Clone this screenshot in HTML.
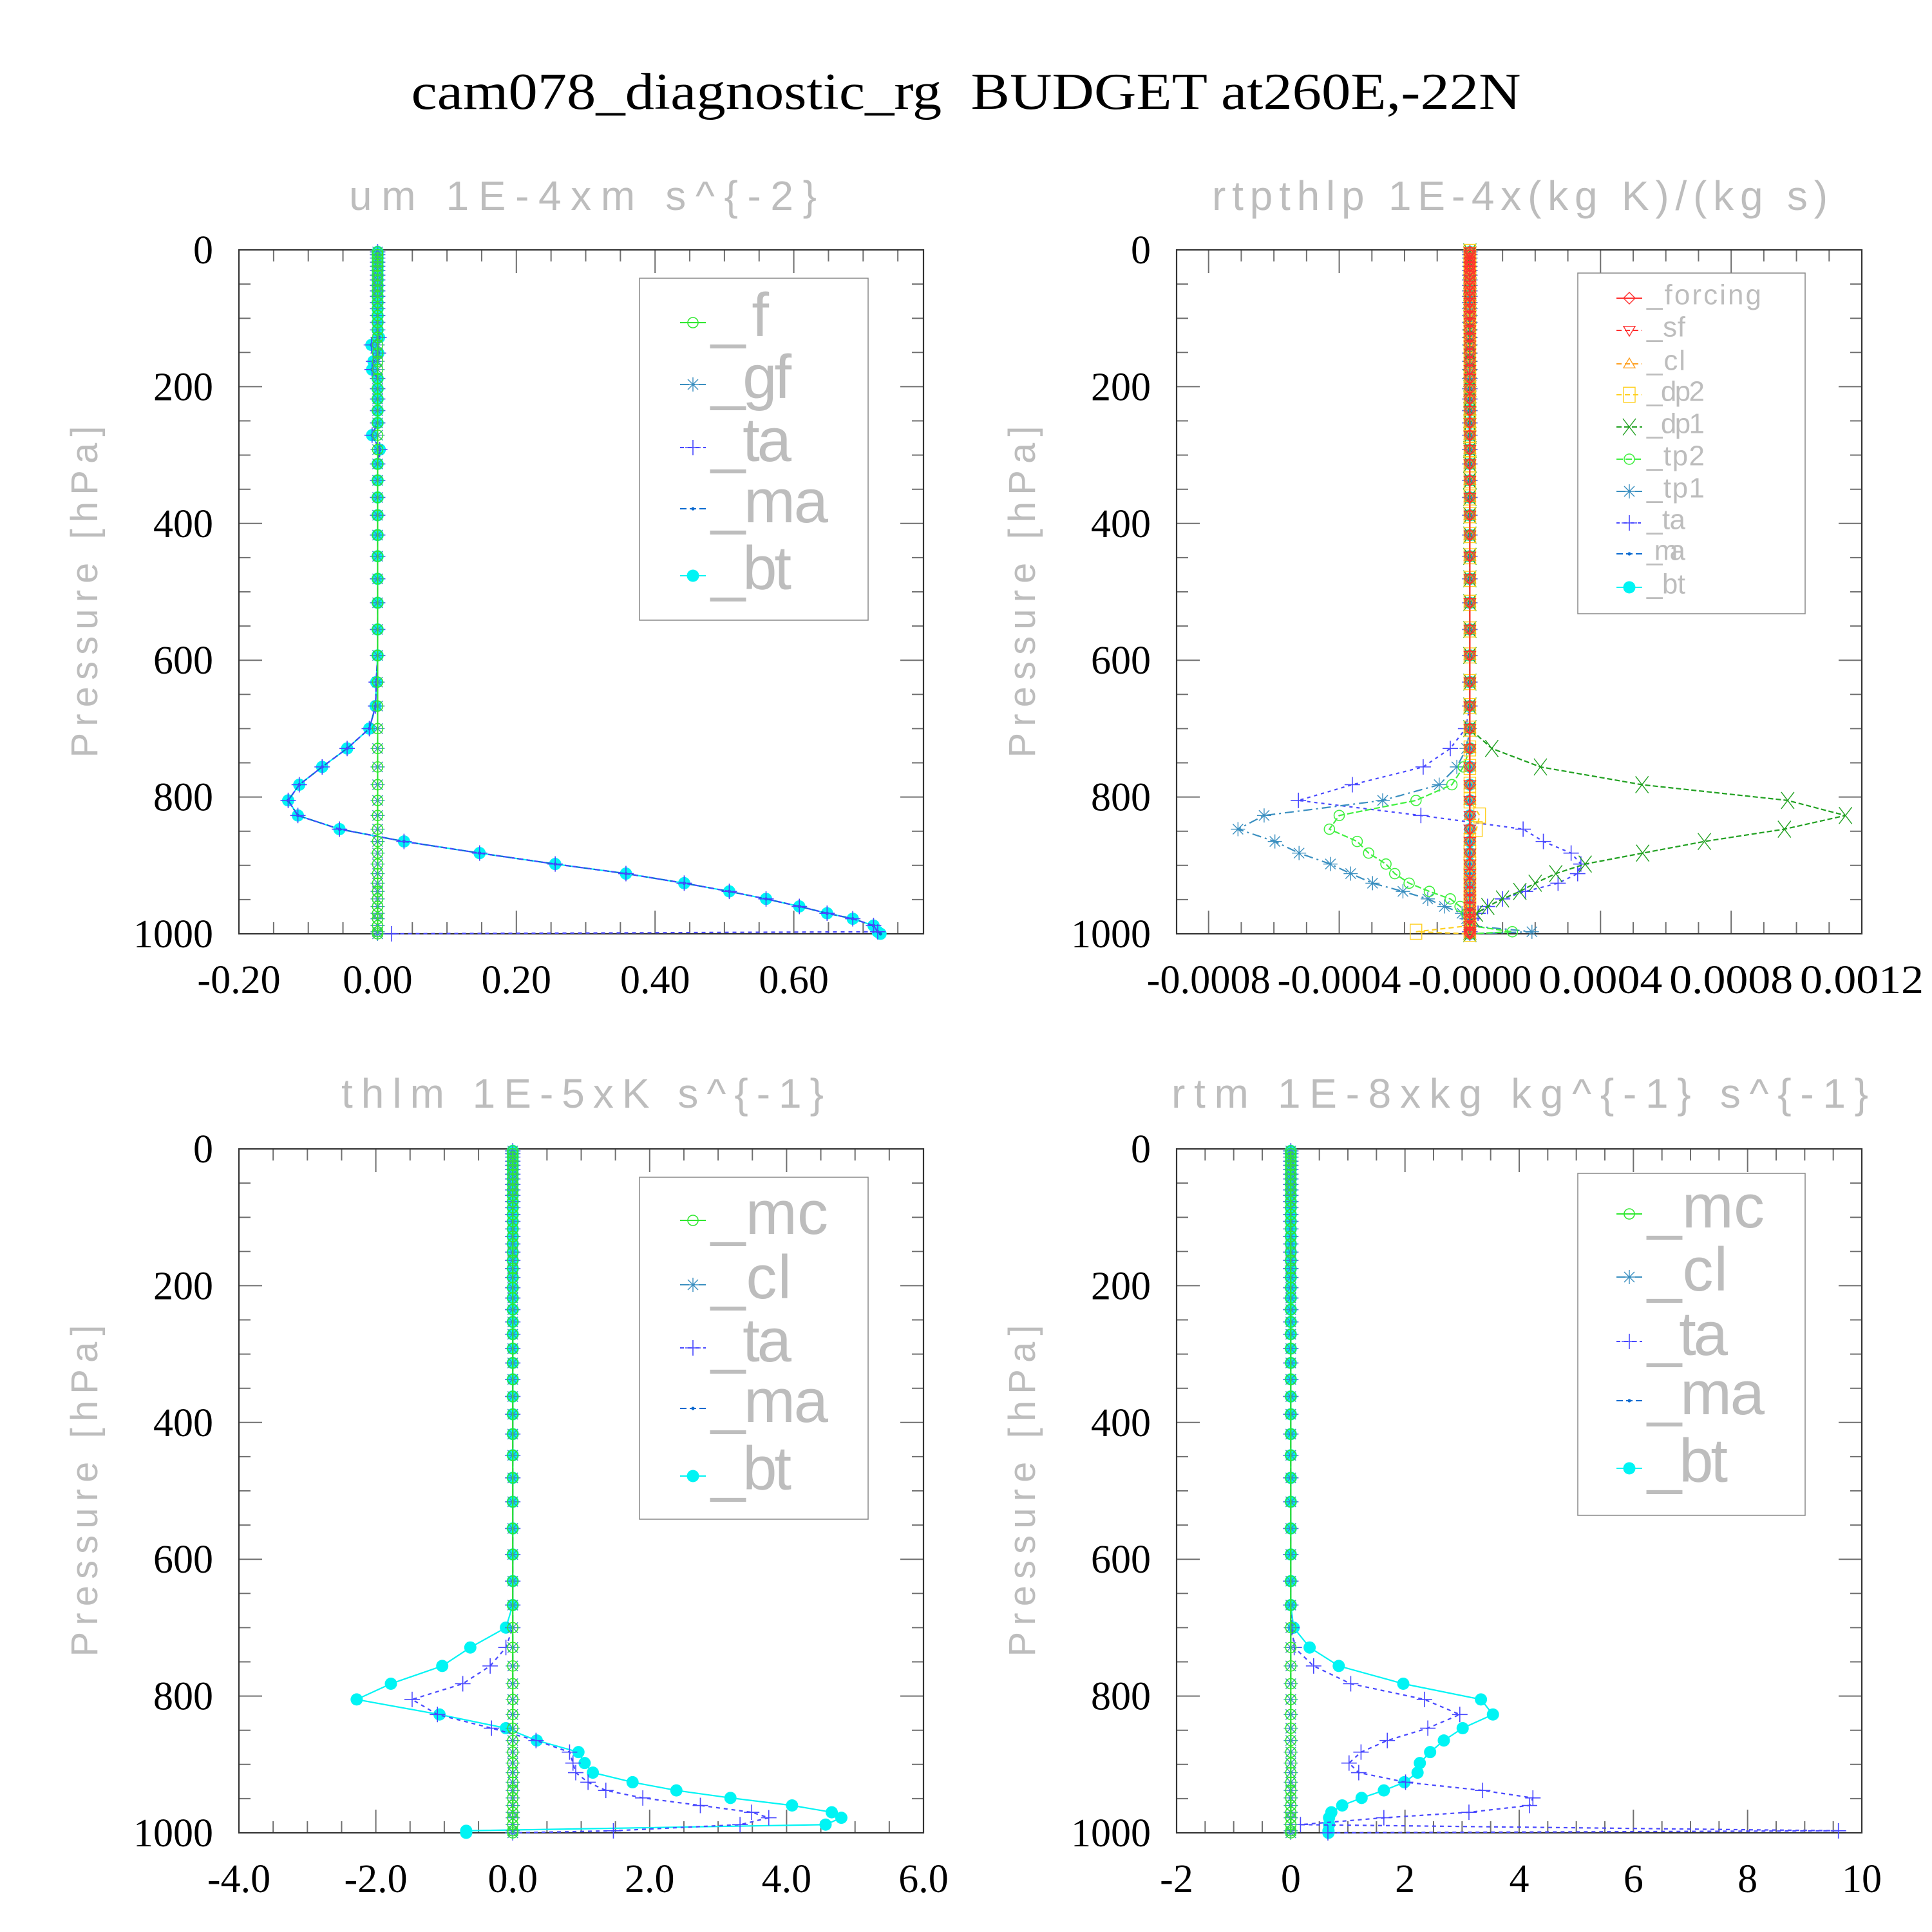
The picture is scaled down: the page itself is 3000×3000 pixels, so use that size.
<!DOCTYPE html>
<html><head><meta charset="utf-8"><style>
html,body{margin:0;padding:0;background:#fff;}
svg{display:block;}
</style></head><body>
<svg id="chart" xmlns="http://www.w3.org/2000/svg" width="3000" height="3000" viewBox="0 0 3000 3000">
<rect x="0" y="0" width="3000" height="3000" fill="#fff"/>
<text x="1500" y="169" text-anchor="middle" font-family="Liberation Serif, serif" font-size="80" textLength="1723" lengthAdjust="spacingAndGlyphs" fill="#000" xml:space="preserve">cam078_diagnostic_rg  BUDGET at260E,-22N</text>
</svg>
<script>
const levels = [3,7,12,18,24,30,37,44,52,60,68,77,86,96,106,117,128,139,151,163,175,188,203,218,235,253,271,292,313,337,362,388,417,448,481,516,555,593,632,667,700,729,756,782,805,827,847,865,882,898,912,926,938,949,960,970,978,988,997,1000];
const zeroProfile = [0,0,0,0,0,0,0,0,0,0, 0,0,0,0,0,0,0,0,0,0, 0,0,0,0,0,0,0,0,0,0, 0,0,0,0,0,0,0,0,0,0, 0,0,0,0,0,0,0,0,0,0, 0,0,0,0,0,0,0,0,0,0];

const p1_bt = [0,0,0,0,0,0,0,0,0,0, 0,0,0,0,0,0,0.002,-0.009,0.001,-0.006, -0.008,0,0,0,0,0,-0.008,0.003,0,0, 0,0,0,0,0,0,0,0,-0.002,-0.003, -0.012,-0.044,-0.080,-0.113,-0.129,-0.115,-0.055,0.038,0.147,0.256, 0.358,0.442,0.507,0.560,0.608,0.648,0.685,0.715,0.721,0.725];
const p1_ta = [0,0,0,0,0,0,0,0,0,0, 0,0,0,0,0,0,0.002,-0.009,0.001,-0.006, -0.008,0,0,0,0,0,-0.008,0.003,0,0, 0,0,0,0,0,0,0,0,-0.002,-0.003, -0.012,-0.044,-0.080,-0.113,-0.129,-0.115,-0.055,0.038,0.147,0.256, 0.358,0.442,0.507,0.560,0.608,0.648,0.685,0.715,0.721,0.02];
const p1_ma = [0,0,0,0,0,0,0,0,0,0, 0,0,0,0,0,0,0.002,-0.009,0.001,-0.006, -0.008,0,0,0,0,0,-0.008,0.003,0,0, 0,0,0,0,0,0,0,0,-0.002,-0.003, -0.012,-0.044,-0.080,-0.113,-0.129,-0.115,-0.055,0.038,0.147,0.256, 0.358,0.442,0.507,0.560,0.608,0.648,0.685,0.715,0.721,0.725];

const p2_dp1 = [0,0,0,0,0,0,0,0,0,0, 0,0,0,0,0,0,0,0,0,0, 0,0,0,0,0,0,0,0,0,0, 0,0,0,0,0,0,0,0,0,0, 0,0.000067,0.000216,0.000527,0.000973,0.00115,0.000963,0.000718,0.000529,0.000353, 0.000263,0.0002,0.000153,0.0001,0.000055,0.00002,0.00001,0,0,0];
const p2_tp1 = [0,0,0,0,0,0,0,0,0,0, 0,0,0,0,0,0,0,0,0,0, 0,0,0,0,0,0,0,0,0,0, 0,0,0,0,0,0,0,0,0,0, 0,-0.00001,-0.00004,-0.000094,-0.000267,-0.00063,-0.00071,-0.000597,-0.000523,-0.000427, -0.000365,-0.000298,-0.000205,-0.000129,-0.000078,-0.000024,-0.00001,0,0.00019,0];
const p2_tp2 = [0,0,0,0,0,0,0,0,0,0, 0,0,0,0,0,0,0,0,0,0, 0,0,0,0,0,0,0,0,0,0, 0,0,0,0,0,0,0,0,0,0, 0,0,-0.00002,-0.000055,-0.000165,-0.0004,-0.00043,-0.000345,-0.00031,-0.000257, -0.00023,-0.000186,-0.000124,-0.00006,-0.00003,-0.00001,0,0,0.00013,0];
const p2_ta = [0,0,0,0,0,0,0,0,0,0, 0,0,0,0,0,0,0,0,0,0, 0,0,0,0,0,0,0,0,0,0, 0,0,0,0,0,0,0,0,0,0, -0.000013,-0.00006,-0.000143,-0.00036,-0.000525,-0.00015,0.000163,0.000225,0.00031,0.00034, 0.00033,0.00027,0.00017,0.0001,0.000054,0.000025,0.00001,0,0,0];
const p2_dp2 = [0,0,0,0,0,0,0,0,0,0, 0,0,0,0,0,0,0,0,0,0, 0,0,0,0,0,0,0,0,0,0, 0,0,0,0,0,0,0,0,0,0, 0,0,0,0,0,0.00003,0.00002,0,0,0, 0,0,0,0,0,0,0,0,-0.000165,0];

const p3_bt = [0,0,0,0,0,0,0,0,0,0, 0,0,0,0,0,0,0,0,0,0, 0,0,0,0,0,0,0,0,0,0, 0,0,0,0,0,0,0,0,0,0, -0.10,-0.62,-1.03,-1.78,-2.28,-1.07,-0.10,0.35,0.96,1.05, 1.17,1.75,2.39,3.18,4.08,4.66,4.80,4.57,-0.68,-0.68];
const p3_ta = [0,0,0,0,0,0,0,0,0,0, 0,0,0,0,0,0,0,0,0,0, 0,0,0,0,0,0,0,0,0,0, 0,0,0,0,0,0,0,0,0,0, 0,-0.10,-0.33,-0.73,-1.47,-1.10,-0.31,0.34,0.83,0.88, 0.92,1.10,1.36,1.90,2.74,3.49,3.74,3.32,1.47,0.0];

const p4_bt = [0,0,0,0,0,0,0,0,0,0, 0,0,0,0,0,0,0,0,0,0, 0,0,0,0,0,0,0,0,0,0, 0,0,0,0,0,0,0,0,0,0, 0.05,0.33,0.84,1.97,3.33,3.54,3.01,2.68,2.44,2.26, 2.22,1.99,1.63,1.24,0.90,0.71,0.67,0.67,0.66,0.66];
const p4_ta = [0,0,0,0,0,0,0,0,0,0, 0,0,0,0,0,0,0,0,0,0, 0,0,0,0,0,0,0,0,0,0, 0,0,0,0,0,0,0,0,0,0, 0.02,0.06,0.40,1.05,2.34,2.96,2.40,1.69,1.23,1.02, 1.19,2.01,3.36,4.24,4.18,3.12,1.63,0.17,9.59,0.65];

const p1XTicks = [-0.2,0,0.2,0.4,0.6];
const p1XTickLabels = ["-0.20","0.00","0.20","0.40","0.60"];
const p2XTicks = [-0.0008,-0.0004,0,0.0004,0.0008,0.0012];
const p2XTickLabels = ["-0.0008","-0.0004","-0.0000","0.0004","0.0008","0.0012"];
const p3XTicks = [-4,-2,0,2,4,6];
const p3XTickLabels = ["-4.0","-2.0","0.0","2.0","4.0","6.0"];
const p4XTicks = [-2,0,2,4,6,8,10];
const p4XTickLabels = ["-2","0","2","4","6","8","10"];
const yTicks = [0,200,400,600,800,1000];
const yTickLabels = ["0","200","400","600","800","1000"];

const NS = "http://www.w3.org/2000/svg";
const svg = document.getElementById('chart');
function mk(tag, attrs, parent){
  const e = document.createElementNS(NS, tag);
  for (const k in attrs) e.setAttribute(k, attrs[k]);
  (parent||svg).appendChild(e);
  return e;
}
const GRAY = "#bdbdbd";
const HFONT = "Liberation Sans, DejaVu Sans, sans-serif";

function drawMarker(g, type, x, y, color, scale){
  const s = scale||1;
  let e;
  if (type==='circle'){ e = mk('circle',{cx:x,cy:y,r:8*s,fill:'none',stroke:color,'stroke-width':1.6},g); }
  else if (type==='bt'){ e = mk('circle',{cx:x,cy:y,r:9.5*s,fill:color,stroke:'none'},g); }
  else if (type==='dot'){ e = mk('circle',{cx:x,cy:y,r:2.6*s,fill:color},g); }
  else if (type==='plus'){ e = mk('path',{d:`M${x-12*s},${y}H${x+12*s}M${x},${y-12*s}V${y+12*s}`,stroke:color,'stroke-width':1.6,fill:'none'},g); }
  else if (type==='aster'){ const a=11*s,b=8*s; e = mk('path',{d:`M${x-a},${y}H${x+a}M${x-b},${y-b}L${x+b},${y+b}M${x-b},${y+b}L${x+b},${y-b}M${x},${y-a}V${y+a}`,stroke:color,'stroke-width':1.4,fill:'none'},g); }
  else if (type==='xmark'){ const a=10*s; e = mk('path',{d:`M${x-a},${y-a*1.3}L${x+a},${y+a*1.3}M${x-a},${y+a*1.3}L${x+a},${y-a*1.3}`,stroke:color,'stroke-width':1.4,fill:'none'},g); }
  else if (type==='diamond'){ const a=9*s; e = mk('path',{d:`M${x},${y-a}L${x+a},${y}L${x},${y+a}L${x-a},${y}Z`,stroke:color,'stroke-width':1.4,fill:'none'},g); }
  else if (type==='tridown'){ const a=9*s; e = mk('path',{d:`M${x-a},${y-a*0.7}L${x+a},${y-a*0.7}L${x},${y+a}Z`,stroke:color,'stroke-width':1.4,fill:'none'},g); }
  else if (type==='triup'){ const a=9*s; e = mk('path',{d:`M${x-a},${y+a*0.7}L${x+a},${y+a*0.7}L${x},${y-a}Z`,stroke:color,'stroke-width':1.4,fill:'none'},g); }
  else if (type==='square'){ const a=9*s; e = mk('rect',{x:x-a,y:y-a*1.3,width:2*a,height:2.6*a,stroke:color,'stroke-width':1.4,fill:'none'},g); }
  return e;
}

function panel(cfg){
  const g = mk('g',{});
  
  
  const {x0,y0,w,h,xmin,xmax} = cfg;
  const sx = v => x0 + (v - xmin)/(xmax - xmin)*w;
  const sy = p => y0 + p/1000*h;
  const st = mk('text',{x:cfg.subX,y:cfg.subY,'text-anchor':'start','font-family':HFONT,'font-size':64,fill:GRAY,textLength:cfg.subW,lengthAdjust:'spacing','xml:space':'preserve'},g);
  st.textContent = cfg.subtitle;
  
  
  const ycx = x0 - 220, ycy = y0 + 531;
  const yt = mk('text',{x:0,y:0,'text-anchor':'middle','font-family':HFONT,'font-size':58,fill:GRAY,textLength:515,lengthAdjust:'spacing',transform:`translate(${ycx},${ycy}) rotate(-90)`},g);
  yt.textContent = 'Pressure [hPa]';
  
  
  const tg = mk('g',{stroke:'#707070','stroke-width':2},g);
  
  
  for (let p=0; p<=1000; p+=50){
    const L = (p%200===0)?36:18;
    mk('line',{x1:x0,y1:sy(p),x2:x0+L,y2:sy(p)},tg);
    mk('line',{x1:x0+w,y1:sy(p),x2:x0+w-L,y2:sy(p)},tg);
  }
  const nMin = Math.round((xmax - xmin)/cfg.xMinor)+2;
  const start = Math.ceil(xmin/cfg.xMinor - 1e-6);
  for (let i=start; i<start+nMin; i++){
    const v = i*cfg.xMinor;
    if (v > xmax + 1e-12) break;
    const isMaj = Math.abs(v/cfg.xMajor - Math.round(v/cfg.xMajor)) < 1e-6;
    const L = isMaj?36:18;
    mk('line',{x1:sx(v),y1:y0,x2:sx(v),y2:y0+L},tg);
    mk('line',{x1:sx(v),y1:y0+h,x2:sx(v),y2:y0+h-L},tg);
  }
  const fr = mk('rect',{x:x0,y:y0,width:w,height:h,fill:'none',stroke:'#333','stroke-width':2.2},g);
  
  
  yTicks.forEach((p,i)=>{
    const t = mk('text',{x:x0-40,y:sy(p)+21,'text-anchor':'end','font-family':'Liberation Serif, serif','font-size':62,fill:'#000'},g);
    t.textContent = yTickLabels[i];
    
    
  });
  cfg.xTicks.forEach((v,i)=>{
    const attrs = {x:sx(v),y:y0+h+92,'text-anchor':'middle','font-family':'Liberation Serif, serif','font-size':62,fill:'#000'};
    if (cfg.xLabelW) { attrs.textLength = cfg.xLabelW; attrs.lengthAdjust = 'spacingAndGlyphs'; }
    const t = mk('text',attrs,g);
    t.textContent = cfg.xTickLabels[i];
    
    
  });
  // series drawn in reverse order (bt at bottom)
  cfg.series.slice().reverse().forEach(s=>{
    const sg = mk('g',{},g);
    
    
    const pts = s.vals.map((v,i)=>sx(v).toFixed(1)+','+sy(levels[i]).toFixed(1)).join(' ');
    const ln = mk('polyline',{points:pts,fill:'none',stroke:s.lineColor||s.color,'stroke-width':s.lw||2.2,'stroke-dasharray':s.dash||'none'},sg);
    
    
    s.vals.forEach((v,i)=>{
      const m = drawMarker(sg, s.marker, sx(v), sy(levels[i]), s.color);
      
      
    });
  });
  const L = cfg.legend;
  const lg = mk('g',{},g);
  
  
  mk('rect',{x:L.x,y:L.y,width:L.w,height:L.h,fill:'#fff',stroke:'#888','stroke-width':1.5},lg);
  cfg.series.forEach((s,i)=>{
    const ey = L.ys[i];
    const eg = mk('g',{},lg);
    
    
    mk('line',{x1:L.mx-20,y1:ey,x2:L.mx+20,y2:ey,stroke:s.lineColor||s.color,'stroke-width':2,'stroke-dasharray':s.dash||'none'},eg);
    drawMarker(eg, s.marker, L.mx, ey, s.color);
    const t = mk('text',{x:L.tx,y:ey+L.fs*0.22,'font-family':HFONT,'font-size':L.fs,fill:GRAY,textLength:L.tw[i],lengthAdjust:'spacing'},eg);
    t.textContent = s.label;
  });
}

const C_F='#30e830', C_GF='#3a8fc0', C_TA='#4848ff', C_MA='#0a6ad0', C_BT='#00f4f4';

panel({name:'panel-um', x0:371,y0:388,w:1063,h:1062,xmin:-0.2,xmax:0.787,xMajor:0.2,xMinor:0.05,
  xTicks:p1XTicks,xTickLabels:p1XTickLabels,
  subtitle:'um   1E-4xm s^{-2}', subX:542, subY:326, subW:726,
  series:[
    {label:'_f',vals:zeroProfile,color:C_F,marker:'circle'},
    {label:'_gf',vals:zeroProfile,color:C_GF,marker:'aster',dash:'14,6,3,6'},
    {label:'_ta',vals:p1_ta,color:C_TA,marker:'plus',dash:'6,6'},
    {label:'_ma',vals:p1_ma,color:C_MA,marker:'dot',dash:'10,5'},
    {label:'_bt',vals:p1_bt,color:C_BT,marker:'bt'}
  ],
  legend:{x:993,y:432,w:355,h:531,mx:1076,tx:1104,fs:96,ys:[501,597,695,790,894],tw:[90,125,125,182,125]}
});

panel({name:'panel-rtpthlp', x0:1827,y0:388,w:1064,h:1062,xmin:-0.000898,xmax:0.0012,xMajor:0.0004,xMinor:0.0001,
  xTicks:p2XTicks,xTickLabels:p2XTickLabels,xLabelW:192,
  subtitle:'rtpthlp   1E-4x(kg K)/(kg s)', subX:1882, subY:326, subW:956,
  series:[
    {label:'_forcing',vals:zeroProfile,color:'#ff3030',marker:'diamond'},
    {label:'_sf',vals:zeroProfile,color:'#ff3030',marker:'tridown',dash:'8,5'},
    {label:'_cl',vals:zeroProfile,color:'#ffa020',marker:'triup',dash:'8,5'},
    {label:'_dp2',vals:p2_dp2,color:'#ffd020',marker:'square',dash:'8,5'},
    {label:'_dp1',vals:p2_dp1,color:'#20a020',marker:'xmark',dash:'8,4'},
    {label:'_tp2',vals:p2_tp2,color:'#40f040',marker:'circle',dash:'10,4'},
    {label:'_tp1',vals:p2_tp1,color:C_GF,marker:'aster',dash:'14,6,3,6'},
    {label:'_ta',vals:p2_ta,color:C_TA,marker:'plus',dash:'5,6'},
    {label:'_ma',vals:zeroProfile,color:C_MA,marker:'dot',dash:'10,5'},
    {label:'_bt',vals:zeroProfile,color:C_BT,marker:'bt'}
  ],
  legend:{x:2450,y:424,w:353,h:529,mx:2530,tx:2557,fs:44,ys:[463,513,565,613,663,713,763,812,860,912],tw:[178,60,60,90,90,90,90,60,60,60]}
});

panel({name:'panel-thlm', x0:371,y0:1784,w:1063,h:1062,xmin:-4,xmax:6,xMajor:2,xMinor:0.5,
  xTicks:p3XTicks,xTickLabels:p3XTickLabels,
  subtitle:'thlm   1E-5xK s^{-1}', subX:530, subY:1720, subW:749,
  series:[
    {label:'_mc',vals:zeroProfile,color:C_F,marker:'circle'},
    {label:'_cl',vals:zeroProfile,color:C_GF,marker:'aster',dash:'14,6,3,6'},
    {label:'_ta',vals:p3_ta,color:C_TA,marker:'plus',dash:'6,6'},
    {label:'_ma',vals:zeroProfile,color:C_MA,marker:'dot',dash:'10,5'},
    {label:'_bt',vals:p3_bt,color:C_BT,marker:'bt'}
  ],
  legend:{x:993,y:1828,w:355,h:531,mx:1076,tx:1104,fs:96,ys:[1895,1995,2093,2187,2292],tw:[182,125,125,182,125]}
});

panel({name:'panel-rtm', x0:1827,y0:1784,w:1064,h:1062,xmin:-2,xmax:10,xMajor:2,xMinor:0.5,
  xTicks:p4XTicks,xTickLabels:p4XTickLabels,
  subtitle:'rtm   1E-8xkg kg^{-1} s^{-1}', subX:1819, subY:1720, subW:1082,
  series:[
    {label:'_mc',vals:zeroProfile,color:C_F,marker:'circle'},
    {label:'_cl',vals:zeroProfile,color:C_GF,marker:'aster',dash:'14,6,3,6'},
    {label:'_ta',vals:p4_ta,color:C_TA,marker:'plus',dash:'6,6'},
    {label:'_ma',vals:zeroProfile,color:C_MA,marker:'dot',dash:'10,5'},
    {label:'_bt',vals:p4_bt,color:C_BT,marker:'bt'}
  ],
  legend:{x:2450,y:1822,w:353,h:531,mx:2530,tx:2558,fs:96,ys:[1885,1983,2083,2175,2280],tw:[182,125,125,182,125]}
});
</script>
</body></html>
